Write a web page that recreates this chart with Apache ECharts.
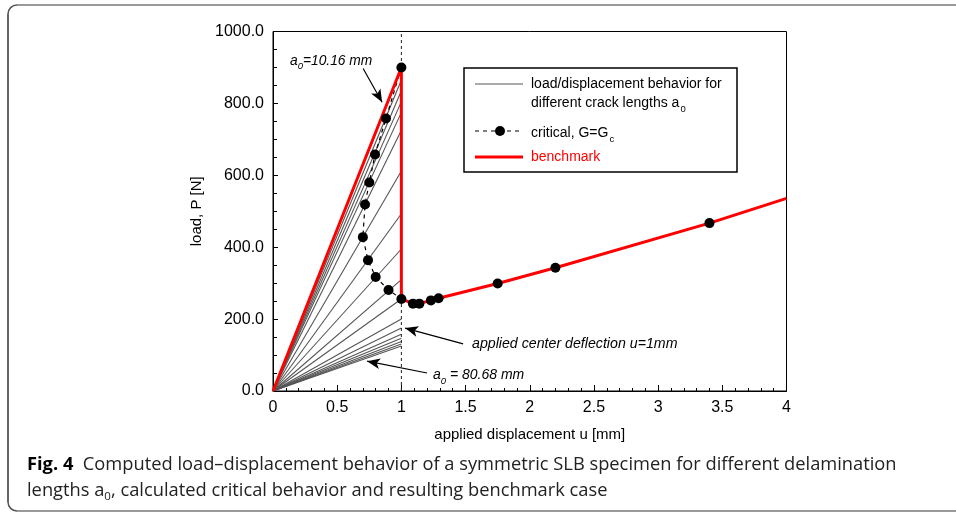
<!DOCTYPE html>
<html>
<head>
<meta charset="utf-8">
<script src="https://cdn.jsdelivr.net/npm/echarts@6/dist/echarts.min.js"></script>
<style>
html,body{margin:0;padding:0;background:#fff;}
#c{width:956px;height:514px;}
</style>
</head>
<body>
<div id="c"></div>
<script>
// ---- data ----
const xTicks = [0, 0.5, 1, 1.5, 2, 2.5, 3, 3.5, 4];
const yTicks = [0, 200, 400, 600, 800, 1000];
// load at u = 1 mm for each crack-length line (all start at origin)
const grayEnds = [900, 865, 835, 805, 775, 725, 612, 493, 395, 310, 256, 200, 175, 158, 147, 138, 131, 125];
// critical (G = Gc) points
const critU = [1.0, 0.88, 0.795, 0.75, 0.717, 0.70, 0.74, 0.80, 0.90, 1.0, 1.09, 1.14, 1.23, 1.29, 1.75, 2.2, 3.4];
const critP = [900, 758, 658, 580, 519, 428, 364, 317, 281, 256, 243, 243, 252, 258, 299, 343, 467];
// benchmark path
const benchU = [0, 1, 1, 1.09, 1.14, 1.23, 1.29, 1.75, 2.2, 3.4, 4];
const benchP = [0, 900, 256, 243, 243, 252, 258, 299, 343, 467, 536];
// applied deflection marker
const deflU = [1, 1];
const deflP = [0, 1000];

const chart = echarts.init(document.getElementById('c'), null, {renderer: 'canvas'});
const FONT = 'Liberation Sans, Arial, sans-serif';
const CAP = 'Open Sans, Noto Sans, sans-serif';

const series = [];
grayEnds.forEach(function (e) {
  series.push({
    type: 'line', name: 'gray', data: [[0, 0], [1, e]],
    showSymbol: false, silent: true, z: 2,
    lineStyle: {color: '#555', width: 1.1}
  });
});
series.push({
  type: 'line', name: 'deflection', data: deflU.map((u, i) => [u, deflP[i]]),
  showSymbol: false, silent: true, z: 3,
  lineStyle: {color: '#222', width: 1, type: [3, 3]}
});
series.push({
  type: 'line', name: 'critical', data: critU.map((u, i) => [u, critP[i]]),
  showSymbol: false, silent: true, z: 4,
  lineStyle: {color: '#000', width: 1.2, type: [4, 4]}
});
series.push({
  type: 'line', name: 'benchmark', data: benchU.map((u, i) => [u, benchP[i]]),
  showSymbol: false, silent: true, z: 5,
  lineStyle: {color: '#ff0000', width: 3}
});
series.push({
  type: 'scatter', name: 'critical points', data: critU.map((u, i) => [u, critP[i]]),
  symbol: 'circle', symbolSize: 10, silent: true, z: 6,
  itemStyle: {color: '#000', opacity: 1}
});
// annotation arrows in data coordinates
series.push({
  type: 'line', name: 'arrows', data: [], silent: true, z: 7,
  markLine: {
    silent: true, animation: false,
    symbol: ['none', 'arrow'], symbolSize: [8, 13],
    lineStyle: {color: '#000', width: 1.2, type: 'solid'},
    label: {show: false},
    data: [
      [{coord: [0.702, 897]}, {coord: [0.85, 803]}],
      [{coord: [1.481, 131]}, {coord: [1.029, 175]}],
      [{coord: [1.20, 50]}, {coord: [0.733, 83]}]
    ]
  }
});

const option = {
  animation: false,
  backgroundColor: '#fff',
  grid: {left: 273, top: 31.5, width: 513.5, height: 359.5, show: true, borderColor: '#000', borderWidth: 1},
  xAxis: {
    type: 'value', min: 0, max: 4, interval: 0.5,
    axisLine: {lineStyle: {color: '#000', width: 1}},
    axisTick: {inside: true, length: 6, lineStyle: {color: '#000'}},
    minorTick: {show: true, splitNumber: 5, length: 3, lineStyle: {color: '#000'}},
    splitLine: {show: false},
    axisLabel: {color: '#000', fontFamily: FONT, fontSize: 16, margin: 9,
      formatter: function (v) { return xTicks.indexOf(v) >= 0 ? String(v) : ''; }},
    name: 'applied displacement u [mm]', nameLocation: 'middle', nameGap: 36,
    nameTextStyle: {color: '#000', fontFamily: FONT, fontSize: 15}
  },
  yAxis: {
    type: 'value', min: 0, max: 1000, interval: 200,
    axisLine: {show: true, lineStyle: {color: '#000', width: 1}},
    axisTick: {show: true, inside: true, length: 5, lineStyle: {color: '#000'}},
    minorTick: {show: true, splitNumber: 4, length: 4, lineStyle: {color: '#000'}},
    splitLine: {show: false},
    axisLabel: {color: '#000', fontFamily: FONT, fontSize: 16, margin: 9,
      formatter: function (v) { return yTicks.indexOf(v) >= 0 ? v.toFixed(1) : ''; }},
    name: 'load, P [N]', nameLocation: 'middle', nameGap: 68,
    nameTextStyle: {color: '#000', fontFamily: FONT, fontSize: 15}
  },
  series: series,
  graphic: [
    // figure frame
    {type: 'line', silent: true, z: 0, shape: {x1: 17, y1: 5, x2: 956, y2: 5}, style: {stroke: '#777', lineWidth: 1.5}},
    {type: 'line', silent: true, z: 0, shape: {x1: 17, y1: 511, x2: 956, y2: 511}, style: {stroke: '#777', lineWidth: 1.5}},
    {type: 'line', silent: true, z: 0, shape: {x1: 8, y1: 14, x2: 8, y2: 502}, style: {stroke: '#333', lineWidth: 1.5}},
    {type: 'arc', silent: true, z: 0, shape: {cx: 17, cy: 14, r: 9, startAngle: Math.PI, endAngle: Math.PI * 1.5},
      style: {fill: 'none', stroke: '#555', lineWidth: 1.5}},
    {type: 'arc', silent: true, z: 0, shape: {cx: 17, cy: 502, r: 9, startAngle: Math.PI * 0.5, endAngle: Math.PI},
      style: {fill: 'none', stroke: '#555', lineWidth: 1.5}},
    // legend box
    {type: 'rect', silent: true, z: 10,
      shape: {x: 464, y: 68, width: 273, height: 104},
      style: {fill: '#fff', stroke: '#000', lineWidth: 1.5}},
    {type: 'line', silent: true, z: 11, shape: {x1: 475, y1: 84, x2: 523, y2: 84},
      style: {stroke: '#555', lineWidth: 1.2}},
    {type: 'text', silent: true, z: 11, x: 531, y: 84,
      style: {text: 'load/displacement behavior for', fontFamily: FONT, fontSize: 14, fill: '#000', verticalAlign: 'middle'}},
    {type: 'text', silent: true, z: 11, x: 531, y: 93,
      style: {text: '{n|different crack lengths a}{s|0}', verticalAlign: 'top',
        rich: {n: {fontFamily: FONT, fontSize: 14, fill: '#000'}, s: {fontFamily: FONT, fontSize: 9.5, fill: '#000', padding: [11, 0, 0, 1]}}}},
    {type: 'line', silent: true, z: 11, shape: {x1: 475, y1: 131, x2: 523, y2: 131},
      style: {stroke: '#000', lineWidth: 1.2, lineDash: [4, 4]}},
    {type: 'circle', silent: true, z: 12, shape: {cx: 500, cy: 131, r: 5}, style: {fill: '#000'}},
    {type: 'text', silent: true, z: 11, x: 531, y: 123,
      style: {text: '{n|critical, G=G}{s|c}', verticalAlign: 'top',
        rich: {n: {fontFamily: FONT, fontSize: 14, fill: '#000'}, s: {fontFamily: FONT, fontSize: 9.5, fill: '#000', padding: [11, 0, 0, 1]}}}},
    {type: 'line', silent: true, z: 11, shape: {x1: 475, y1: 157, x2: 523, y2: 157},
      style: {stroke: '#ff0000', lineWidth: 3}},
    {type: 'text', silent: true, z: 11, x: 531, y: 157,
      style: {text: 'benchmark', fontFamily: FONT, fontSize: 14, fill: '#ff0000', verticalAlign: 'middle'}},
    // annotations
    {type: 'text', silent: true, z: 11, x: 290, y: 51,
      style: {text: '{n|a}{s|0}{n|=10.16 mm}', verticalAlign: 'top',
        rich: {n: {fontFamily: FONT, fontSize: 13.8, fontStyle: 'italic', fill: '#000'},
               s: {fontFamily: FONT, fontSize: 9.5, fontStyle: 'italic', fill: '#000', padding: [10, 0, 0, 0]}}}},
    {type: 'text', silent: true, z: 11, x: 472, y: 337,
      style: {text: 'applied center deflection u=1mm', fontFamily: FONT, fontSize: 14.2, fontStyle: 'italic', fill: '#000', verticalAlign: 'top'}},
    {type: 'text', silent: true, z: 11, x: 433, y: 365,
      style: {text: '{n|a}{s|0}{n| = 80.68 mm}', verticalAlign: 'top',
        rich: {n: {fontFamily: FONT, fontSize: 14, fontStyle: 'italic', fill: '#000'},
               s: {fontFamily: FONT, fontSize: 9.5, fontStyle: 'italic', fill: '#000', padding: [11, 0, 0, 0]}}}},
    // caption
    {type: 'text', silent: true, z: 11, x: 27, y: 465,
      style: {text: '{b|Fig. 4}{r|  Computed load–displacement behavior of a symmetric SLB specimen for different delamination}',
        verticalAlign: 'middle',
        rich: {b: {fontFamily: CAP, fontWeight: 'bold', fontSize: 18.3, fill: '#000'},
               r: {fontFamily: CAP, fontSize: 18.3, fill: '#222'}}}},
    {type: 'text', silent: true, z: 11, x: 27, y: 479,
      style: {text: '{r|lengths a}{s|0}{r|, calculated critical behavior and resulting benchmark case}',
        verticalAlign: 'top',
        rich: {r: {fontFamily: CAP, fontSize: 18.3, fill: '#222'},
               s: {fontFamily: CAP, fontSize: 11.5, fill: '#222', padding: [12, 0, 0, 0]}}}}
  ]
};
chart.setOption(option);
</script>
</body>
</html>
